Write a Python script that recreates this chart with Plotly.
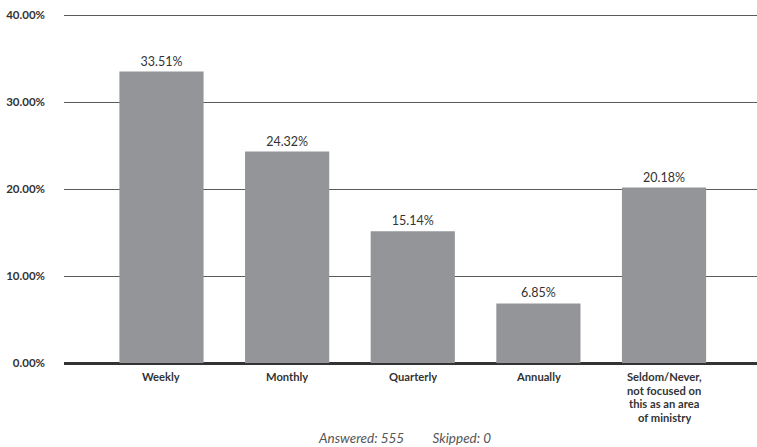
import plotly.graph_objects as go

categories = ["Weekly", "Monthly", "Quarterly", "Annually",
              "Seldom/Never,\nnot focused on\nthis as an area\nof ministry"]
values = [33.51, 24.32, 15.14, 6.85, 20.18]
tick_vals = [0, 10, 20, 30, 40]
tick_text = ["0.00%", "10.00%", "20.00%", "30.00%", "40.00%"]

font_family = "Lato, 'Open Sans', sans-serif"
x_pos = list(range(len(categories)))

fig = go.Figure(
    go.Bar(
        x=x_pos,
        y=values,
        width=0.67,
        marker=dict(color="#939598", line=dict(width=0)),
        text=[f"{v:.2f}%" for v in values],
        textposition="outside",
        cliponaxis=False,
        textfont=dict(family=font_family, size=12.5, color="#333333"),
    )
)

fig.update_layout(
    width=757,
    height=447,
    margin=dict(l=64, r=0, t=13, b=84),
    paper_bgcolor="white",
    plot_bgcolor="white",
    showlegend=False,
    font=dict(family=font_family),
)

fig.update_xaxes(
    range=[-0.776, 4.74],
    tickvals=x_pos,
    showticklabels=False,
    showgrid=False,
    showline=False,
    ticks="",
)

fig.update_yaxes(
    range=[0, 40.25],
    tickvals=tick_vals,
    ticktext=[f"<b>{t}</b>" for t in tick_text],
    tickfont=dict(family=font_family, size=11.5, color="#333333"),
    showgrid=True,
    gridcolor="#5a5a5a",
    gridwidth=1.3,
    zeroline=True,
    zerolinecolor="#333333",
    zerolinewidth=3,
    ticks="",
    ticklabelstandoff=18,
)

# Category labels, one line at a time for tight line spacing
label_size = 11.2
line_step = 13.5
for xi, cat in zip(x_pos, categories):
    for li, line in enumerate(cat.split("\n")):
        fig.add_annotation(
            x=xi, xref="x",
            y=0, yref="paper",
            yanchor="middle",
            yshift=-14 - li * line_step,
            height=line_step,
            text=f"<b>{line}</b>",
            showarrow=False,
            font=dict(family=font_family, size=label_size, color="#333333"),
        )

fig.add_annotation(
    x=0.5, xref="paper", xshift=-6,
    y=-0.213, yref="paper",
    yanchor="middle",
    text="<i>Answered: 555&nbsp;&nbsp;&nbsp;&nbsp;&nbsp;&nbsp;&nbsp;&nbsp;&nbsp;Skipped: 0</i>",
    showarrow=False,
    font=dict(family=font_family, size=13.5, color="#555555"),
)

fig.write_html("out.html")
